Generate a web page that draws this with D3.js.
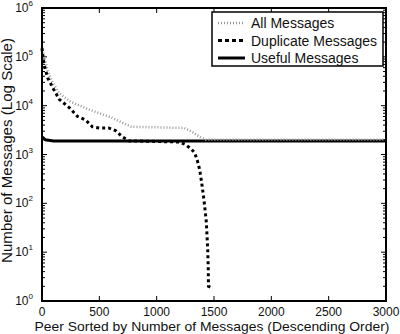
<!DOCTYPE html>
<html>
<head>
<meta charset="utf-8">
<script src="https://cdn.jsdelivr.net/npm/d3@7"></script>
<style>
  body { margin: 0; background: #fff; }
  text { font-family: "Liberation Sans", Arial, sans-serif; fill: #111; }
</style>
</head>
<body>
<div id="chart-area"></div>
<script>
// peers sorted by message count
const allPeers  = [0, 20, 50, 100, 150, 250, 400, 500, 600, 700, 780, 1000, 1240, 1300, 1350, 1390, 1430, 3000];
const allValues = [160000, 100000, 50000, 28000, 18000, 12000, 8500, 7000, 5800, 4500, 3700, 3600, 3500, 3000, 2500, 2200, 2000, 2000];

const dupPeers  = [0, 10, 25, 50, 100, 150, 240, 310, 380, 440, 500, 580, 640, 700, 760, 1000, 1200, 1250, 1300, 1330, 1355, 1375, 1390, 1405, 1418, 1432, 1440, 1446, 1450, 1452, 1490];
const dupValues = [150000, 90000, 60000, 37000, 22000, 13500, 9000, 6000, 5100, 3700, 3500, 3500, 3100, 2300, 1900, 1850, 1800, 1600, 1300, 1100, 750, 490, 290, 160, 90, 44, 20, 10, 4.5, 2.0, 1.85];

const usefulPeers  = [0, 30, 100, 3000];
const usefulValues = [2300, 2000, 1900, 1900];

const xTicks = [0, 500, 1000, 1500, 2000, 2500, 3000];
const yExps  = [0, 1, 2, 3, 4, 5, 6];

const legendNames = ["All Messages", "Duplicate Messages", "Useful Messages"];

const W = 400, H = 334;
const MARGIN = { LEFT: 42, RIGHT: 14, TOP: 8, BOTTOM: 33 };
const WIDTH = W - MARGIN.LEFT - MARGIN.RIGHT;
const HEIGHT = H - MARGIN.TOP - MARGIN.BOTTOM;

const svg = d3.select("#chart-area").append("svg")
  .attr("width", W)
  .attr("height", H);

const g = svg.append("g")
  .attr("transform", `translate(${MARGIN.LEFT}, ${MARGIN.TOP})`);

const x = d3.scaleLinear().domain([0, 3000]).range([0, WIDTH]);
const y = d3.scaleLog().domain([1, 1e6]).range([HEIGHT, 0]);

// minor ticks for the log axis
const minor = [];
yExps.slice(0, -1).forEach(e => {
  for (let k = 2; k <= 9; k++) minor.push(k * Math.pow(10, e));
});

// ticks pointing inwards on all four sides
const tickG = g.append("g").attr("stroke", "#000").attr("stroke-width", 1);
xTicks.forEach(t => {
  tickG.append("line").attr("x1", x(t)).attr("x2", x(t)).attr("y1", HEIGHT).attr("y2", HEIGHT - 5);
  tickG.append("line").attr("x1", x(t)).attr("x2", x(t)).attr("y1", 0).attr("y2", 5);
});
yExps.forEach(e => {
  const v = Math.pow(10, e);
  tickG.append("line").attr("x1", 0).attr("x2", 5).attr("y1", y(v)).attr("y2", y(v));
  tickG.append("line").attr("x1", WIDTH).attr("x2", WIDTH - 5).attr("y1", y(v)).attr("y2", y(v));
});
minor.forEach(v => {
  tickG.append("line").attr("x1", 0).attr("x2", 3).attr("y1", y(v)).attr("y2", y(v));
  tickG.append("line").attr("x1", WIDTH).attr("x2", WIDTH - 3).attr("y1", y(v)).attr("y2", y(v));
});

// X tick labels
g.selectAll(".xlab").data(xTicks).enter().append("text")
  .attr("x", d => x(d))
  .attr("y", HEIGHT + 15)
  .attr("font-size", "12px")
  .attr("text-anchor", "middle")
  .text(d => d);

// Y tick labels 10^n
const yl = g.selectAll(".ylab").data(yExps).enter().append("text")
  .attr("x", -9)
  .attr("y", d => y(Math.pow(10, d)) + 4)
  .attr("font-size", "12px")
  .attr("text-anchor", "end");
yl.append("tspan").text("10");
yl.append("tspan").attr("font-size", "8px").attr("dy", -6).text(d => d);

// lines
const line = d3.line().x(d => x(d[0])).y(d => y(d[1]));

g.append("path")
  .datum(d3.zip(usefulPeers, usefulValues))
  .attr("d", line)
  .attr("fill", "none")
  .attr("stroke", "#000")
  .attr("stroke-width", 3);

g.append("path")
  .datum(d3.zip(allPeers, allValues))
  .attr("d", line)
  .attr("fill", "none")
  .attr("stroke", "#999")
  .attr("stroke-width", 2.5)
  .attr("stroke-dasharray", "1,2");

g.append("path")
  .datum(d3.zip(dupPeers, dupValues))
  .attr("d", line)
  .attr("fill", "none")
  .attr("stroke", "#000")
  .attr("stroke-width", 3)
  .attr("stroke-dasharray", "3,3");

// frame
g.append("rect")
  .attr("width", WIDTH)
  .attr("height", HEIGHT)
  .attr("fill", "none")
  .attr("stroke", "#000")
  .attr("stroke-width", 2);

// legend
const lg = g.append("g").attr("transform", `translate(${212 - MARGIN.LEFT}, ${12 - MARGIN.TOP})`);
lg.append("rect")
  .attr("width", 171)
  .attr("height", 54)
  .attr("fill", "#fff")
  .attr("stroke", "#000")
  .attr("stroke-width", 1.5);
const legendStyles = [
  { stroke: "#999", dash: "1,2", w: 2.5 },
  { stroke: "#000", dash: "4,3", w: 3 },
  { stroke: "#000", dash: null, w: 3 }
];
legendNames.forEach((name, i) => {
  const ly = 11 + i * 17.5;
  lg.append("line")
    .attr("x1", 6).attr("x2", 33)
    .attr("y1", ly).attr("y2", ly)
    .attr("stroke", legendStyles[i].stroke)
    .attr("stroke-width", legendStyles[i].w)
    .attr("stroke-dasharray", legendStyles[i].dash);
  lg.append("text")
    .attr("x", 39)
    .attr("y", ly + 5)
    .attr("font-size", "14px")
    .text(name);
});

// X label
g.append("text")
  .attr("x", WIDTH / 2 - 2)
  .attr("y", HEIGHT + 30)
  .attr("font-size", "13.5px")
  .attr("text-anchor", "middle")
  .attr("textLength", 355)
  .attr("lengthAdjust", "spacingAndGlyphs")
  .text("Peer Sorted by Number of Messages (Descending Order)");

// Y label
g.append("text")
  .attr("x", -(HEIGHT / 2) + 4)
  .attr("y", -30)
  .attr("font-size", "14px")
  .attr("text-anchor", "middle")
  .attr("textLength", 225)
  .attr("lengthAdjust", "spacingAndGlyphs")
  .attr("transform", "rotate(-90)")
  .text("Number of Messages (Log Scale)");
</script>
</body>
</html>
